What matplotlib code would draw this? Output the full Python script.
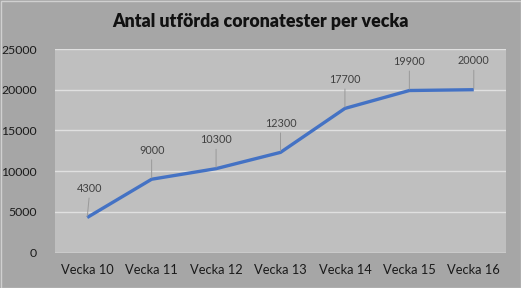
import numpy as np
import matplotlib.pyplot as plt

weeks = ['Vecka 10', 'Vecka 11', 'Vecka 12', 'Vecka 13', 'Vecka 14', 'Vecka 15', 'Vecka 16']
tests = [4300, 9000, 10300, 12300, 17700, 19900, 20000]
yticks = [0, 5000, 10000, 15000, 20000, 25000]

plt.rcParams['font.family'] = ['Lato', 'DejaVu Sans']

fig = plt.figure(figsize=(5.21, 2.88), dpi=100, facecolor='#a6a6a6')
W, H = 521, 288
ax = fig.add_axes([55 / W, 1 - 252.5 / H, 451 / W, 203.5 / H])
ax.set_facecolor('#bfbfbf')

x = np.arange(len(weeks))
ax.plot(x, tests, color='#4472c4', lw=2.4, solid_capstyle='butt', zorder=3)

for xi, v in zip(x, tests):
    ax.annotate(str(v), xy=(xi, v), xytext=(2 if xi == 0 else 0, 17),
                textcoords='offset points', ha='center', va='bottom',
                fontsize=7.8, color='#404040',
                arrowprops=dict(arrowstyle='-', color='#999999', lw=0.7,
                                shrinkA=1, shrinkB=1))

ax.set_xlim(-0.5, len(weeks) - 0.5)
ax.set_ylim(0, 25000)
ax.set_xticks(x)
ax.set_xticklabels(weeks, fontsize=9.3, color='#1a1a1a')
ax.set_yticks(yticks)
ax.set_yticklabels([str(t) for t in yticks], fontsize=8.8, color='#1a1a1a')
ax.tick_params(length=0, pad=8)
ax.tick_params(axis='y', pad=13)
ax.grid(axis='y', color='#e0e0e0', lw=1)
ax.set_axisbelow(True)
for s in ax.spines.values():
    s.set_visible(False)
ax.axhline(0, color='#e0e0e0', lw=1, zorder=2)

fig.text(0.5, 1 - 22 / H, 'Antal utförda coronatester per vecka', ha='center',
         va='center', fontsize=12.8, fontweight='heavy', color='#111111')

fig.add_artist(plt.Rectangle((0.5 / W, 0.5 / H), 1 - 1 / W, 1 - 1 / H,
                             transform=fig.transFigure, fill=False,
                             edgecolor='#d0d0d0', lw=1))

fig.savefig('out.png', dpi=100, facecolor=fig.get_facecolor())
